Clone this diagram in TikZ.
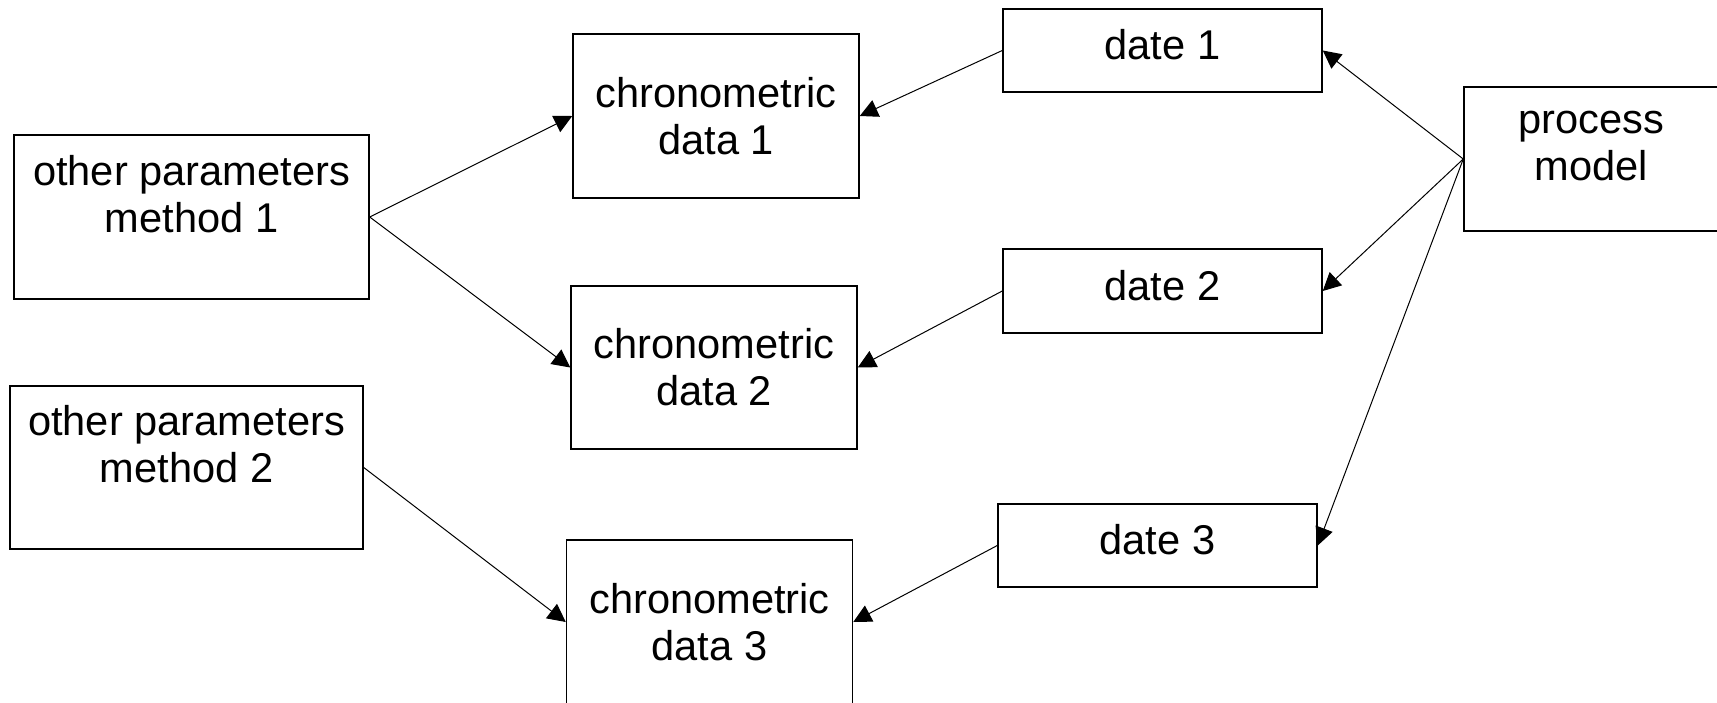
\documentclass[tikz,border=0pt]{standalone}
\usepackage{fontspec}
\setmainfont{Liberation Sans}
\usetikzlibrary{arrows.meta}
\begin{document}
\begin{tikzpicture}[x=0.5pt,y=-0.5pt,
                    box/.style={draw,line width=0.75pt,align=center,inner sep=0pt,font=\fontsize{20.8}{23.5}\selectfont},
                    conn/.style={line width=0.5pt,-{Triangle[length=9pt,width=9pt]}}]
                    \useasboundingbox (0,0) rectangle (1717,702);

                    \node[box,minimum width=177.5pt,minimum height=82pt] (par1) at (191.5,217) {other parameters\\method 1\\\mbox{}};
                    \node[box,minimum width=176.5pt,minimum height=81.5pt] (par2) at (186.5,467.5) {other parameters\\method 2\\\mbox{}};

                    \node[box,minimum width=143pt,minimum height=82pt] (chr1) at (716,116) {chronometric\\data 1};
                    \node[box,minimum width=143pt,minimum height=81.5pt] (chr2) at (714,367.5) {chronometric\\data 2};
                    \node[box,minimum width=143pt,minimum height=82pt] (chr3) at (709.5,622) {chronometric\\data 3};

                    \node[box,text depth=6pt,minimum width=159.5pt,minimum height=41.5pt] (date1) at (1162.5,50.5) {date 1};
                    \node[box,text depth=6pt,minimum width=159.5pt,minimum height=42pt] (date2) at (1162.5,291) {date 2};
                    \node[box,text depth=6pt,minimum width=159.5pt,minimum height=41.5pt] (date3) at (1157.5,545.5) {date 3};

                    \node[box,minimum width=127.5pt,minimum height=72pt] (model) at (1591.5,159) {process\\model\\[-10pt]\mbox{}};

                    \draw[conn] (par1.east) -- (chr1.west);
                    \draw[conn] (par1.east) -- (chr2.west);
                    \draw[conn] (par2.east) -- (chr3.west);

                    \draw[conn] (date1.west) -- (chr1.east);
                    \draw[conn] (date2.west) -- (chr2.east);
                    \draw[conn] (date3.west) -- (chr3.east);

                    \draw[conn] (model.west) -- (date1.east);
                    \draw[conn] (model.west) -- (date2.east);
                    \draw[conn] (model.west) -- (date3.east);

                \end{tikzpicture}
\end{document}
